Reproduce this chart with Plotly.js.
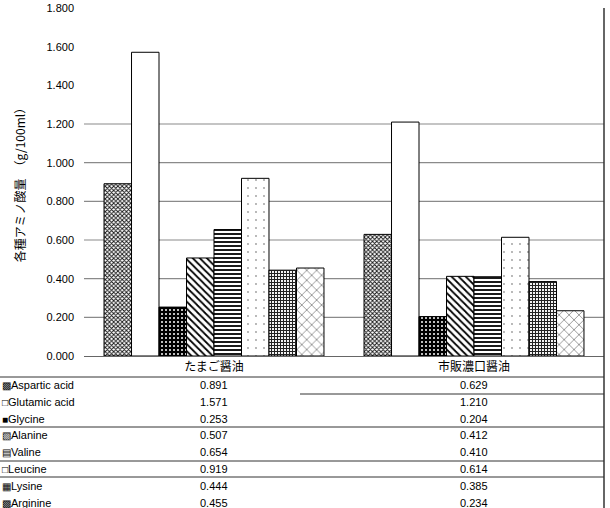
<!DOCTYPE html>
<html>
<head>
<meta charset="utf-8">
<script src="https://cdn.plot.ly/plotly-3.0.1.min.js"></script>
<style>html,body{margin:0;padding:0;background:#fff;}#chart{width:610px;height:508px;}</style>
</head>
<body>
<div id="chart"></div>
<script>
// ---- data ----
const categories = ['たまご醤油', '市販濃口醤油'];
const aminoAcids = ['Aspartic acid', 'Glutamic acid', 'Glycine', 'Alanine', 'Valine', 'Leucine', 'Lysine', 'Arginine'];
const tamagoValues = [0.891, 1.571, 0.253, 0.507, 0.654, 0.919, 0.444, 0.455];
const shihanValues = [0.629, 1.210, 0.204, 0.412, 0.410, 0.614, 0.385, 0.234];
const yTickVals = [0, 0.2, 0.4, 0.6, 0.8, 1.0, 1.2, 1.4, 1.6, 1.8];
const gridVals = [0.2, 0.4, 0.6, 0.8, 1.0, 1.2];
const swatchGlyphs = ['▩', '□', '■', '▧', '▤', '□', '▦', '▩'];

// ---- styles ----
const patterns = [
  {shape: 'x', size: 3, solidity: 0.5, fgcolor: '#111', bgcolor: '#fff'},
  null,
  {shape: '.', size: 4, solidity: 0.2, fgcolor: '#fff', bgcolor: '#000'},
  {shape: '\\', size: 5, solidity: 0.35, fgcolor: '#000', bgcolor: '#fff'},
  {shape: '-', size: 4, solidity: 0.45, fgcolor: '#000', bgcolor: '#fff'},
  {shape: '.', size: 8, solidity: 0.04, fgcolor: '#999', bgcolor: '#fff'},
  {shape: '+', size: 3, solidity: 0.6, fgcolor: '#222', bgcolor: '#fff'},
  {shape: 'x', size: 7, solidity: 0.18, fgcolor: '#666', bgcolor: '#fff'}
];

const latin = 'Liberation Sans, Arial, sans-serif';
const jp = 'Noto Sans CJK JP, sans-serif';

const traces = aminoAcids.map((name, i) => {
  const m = {color: '#fff', line: {color: '#000', width: 1}};
  if (patterns[i]) m.pattern = Object.assign({fillmode: 'replace'}, patterns[i]);
  return {
    type: 'bar', name: name, x: categories, y: [tamagoValues[i], shihanValues[i]],
    marker: m, showlegend: false, hoverinfo: 'none'
  };
});

// table geometry (pixels -> paper)
const plotTop = 8, plotBottom = 356, plotLeft = 84, plotRight = 604;
const H = plotBottom - plotTop, W = plotRight - plotLeft;
const py = px => (plotBottom - px) / H;
const pxX = px => (px - plotLeft) / W;
const rowY0 = 385, rowStep = 16.8;

const annotations = [];
aminoAcids.forEach((name, i) => {
  const y = py(rowY0 + rowStep * i);
  annotations.push({
    xref: 'paper', yref: 'paper', x: pxX(0), y: y, xanchor: 'left', yanchor: 'middle',
    text: '<span style="font-size:10px">' + swatchGlyphs[i] + '</span>' + name,
    showarrow: false, font: {family: latin, size: 11, color: '#000'}
  });
  [tamagoValues, shihanValues].forEach((vals, c) => {
    annotations.push({
      xref: 'x', yref: 'paper', x: categories[c], y: y, xanchor: 'center', yanchor: 'middle',
      text: vals[i].toFixed(3), showarrow: false, font: {family: latin, size: 11, color: '#000'}
    });
  });
});

const lineStyle = {color: '#333', width: 1};
const hLine = (yPx, x0Px, x1Px) => ({
  type: 'line', xref: 'paper', yref: 'paper', x0: pxX(x0Px), x1: pxX(x1Px), y0: py(yPx), y1: py(yPx), line: lineStyle
});
const shapes = [
  hLine(377, 0, 604),
  hLine(394, 300, 604),
  hLine(427, 0, 604),
  hLine(461, 0, 604),
  hLine(477, 0, 604),
  {type: 'line', xref: 'paper', yref: 'paper', x0: 1, x1: 1, y0: 1, y1: py(508), line: {color: '#333', width: 1.5}}
];
gridVals.forEach(v => shapes.push({
  type: 'line', layer: 'below', xref: 'paper', yref: 'y', x0: 0, x1: 1, y0: v, y1: v,
  line: {color: '#8a8a8a', width: 1.2}
}));

const layout = {
  width: 610, height: 508,
  margin: {l: plotLeft, r: 610 - plotRight, t: plotTop, b: 508 - plotBottom},
  paper_bgcolor: '#fff', plot_bgcolor: '#fff',
  barmode: 'group', bargap: 0.154, bargroupgap: 0,
  xaxis: {
    type: 'category', showgrid: false, showline: true, linecolor: '#666', linewidth: 1,
    ticks: '', tickfont: {family: jp, size: 12, color: '#000'}, fixedrange: true
  },
  yaxis: {
    range: [0, 1.8], tickvals: yTickVals, tickformat: '.3f', showgrid: false, zeroline: false,
    showline: false, ticks: '', ticklabelstandoff: 9,
    tickfont: {family: latin, size: 11, color: '#000'},
    title: {text: '各種アミノ酸量　（g/100ml）', font: {family: jp, size: 12, color: '#000'}, standoff: 18}
  },
  annotations: annotations,
  shapes: shapes
};

Plotly.newPlot('chart', traces, layout, {staticPlot: true});
</script>
</body>
</html>
